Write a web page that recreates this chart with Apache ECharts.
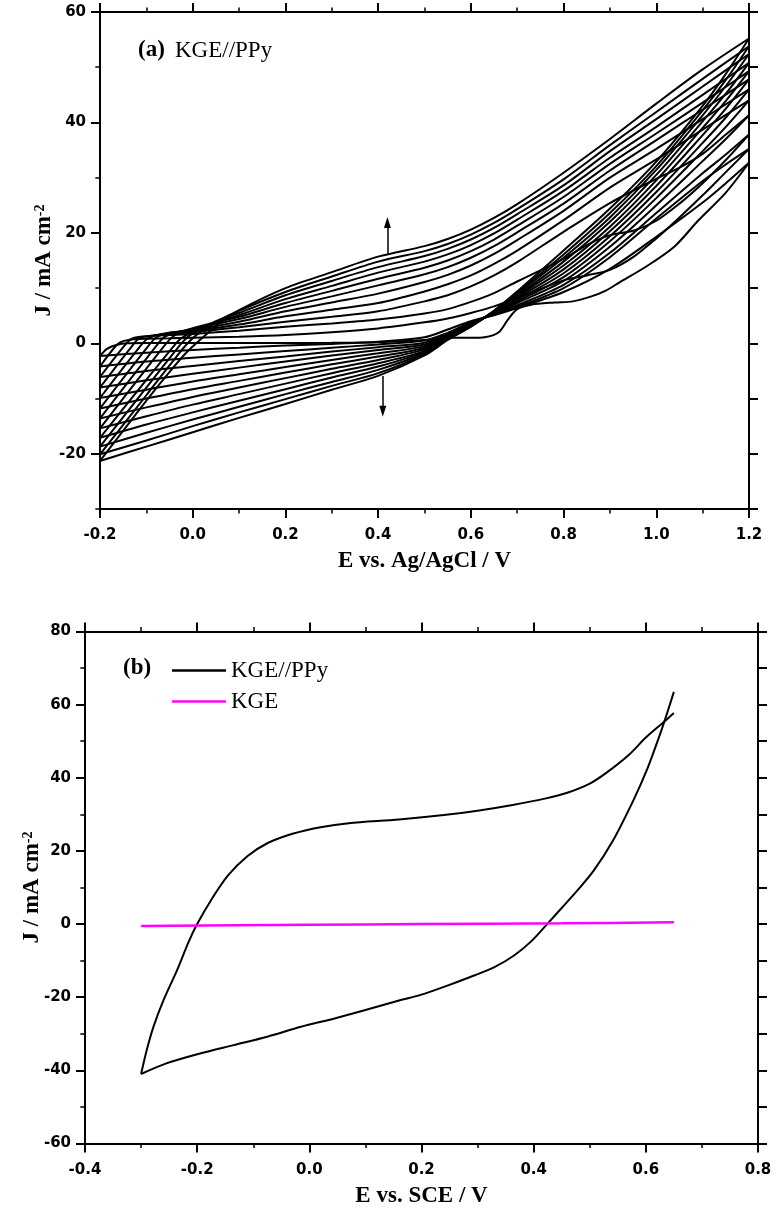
<!DOCTYPE html>
<html>
<head>
<meta charset="utf-8">
<script src="https://cdn.jsdelivr.net/npm/echarts@6/dist/echarts.min.js"></script>
<style>
html,body{margin:0;padding:0;background:#fff;}
#chart{width:773px;height:1209px;}
</style>
</head>
<body>
<div id="chart"></div>
<script>
// ---------- Panel (a): KGE//PPy, twelve successive scans (E vs. Ag/AgCl, J in mA cm-2) ----------
// Anodic (forward) sweeps, -0.2 V -> 1.2 V, as [E, J] pairs
const fwd1 = [[-0.2,-2.3],[-0.185,-1.0],[-0.165,-0.3],[-0.14,0.0],[-0.1,0.05],[0.0,0.05],[0.1,0.05],[0.2,0.05],[0.3,0.1],[0.4,0.2],[0.5,0.6],[0.55,1.0],[0.6,1.0],[0.63,1.1],[0.66,2.0],[0.68,4.3],[0.7,6.2],[0.73,7.0],[0.78,7.4],[0.82,7.6],[0.86,8.5],[0.89,9.5],[0.92,11.0],[0.98,14.0],[1.04,17.6],[1.09,22.2],[1.15,27.3],[1.2,32.7]];
const fwd2 = [[-0.2,-4.2],[-0.165,-0.4],[-0.15,0.4],[-0.12,0.8],[-0.05,0.9],[0.0,1.0],[0.1,1.2],[0.2,1.5],[0.3,2.0],[0.4,2.7],[0.5,3.8],[0.55,4.5],[0.6,5.5],[0.65,6.7],[0.7,8.2],[0.8,11.4],[0.85,12.3],[0.9,13.3],[0.95,15.6],[1.0,19.0],[1.05,22.8],[1.1,26.8],[1.15,31.0],[1.2,35.2]];
const fwd3 = [[-0.2,-6.1],[-0.145,-0.2],[-0.13,0.9],[-0.1,1.3],[-0.05,1.5],[0.0,1.7],[0.1,2.3],[0.2,3.0],[0.3,3.6],[0.4,4.3],[0.5,5.4],[0.55,6.2],[0.6,7.5],[0.65,9.1],[0.7,11.2],[0.8,15.3],[0.85,17.8],[0.9,19.6],[0.95,20.4],[1.0,22.2],[1.05,25.3],[1.1,29.0],[1.15,33.2],[1.2,37.8]];
const fwd4 = [[-0.2,-8.0],[-0.13,-0.4],[-0.115,0.9],[-0.08,1.5],[-0.05,1.7],[0.0,2.0],[0.1,2.9],[0.2,3.9],[0.3,4.8],[0.4,5.8],[0.5,7.6],[0.55,8.7],[0.6,10.3],[0.65,12.3],[0.7,14.7],[0.8,20.2],[0.9,25.4],[1.0,29.8],[1.05,31.8],[1.1,34.3],[1.15,37.8],[1.2,41.3]];
const fwd5 = [[-0.2,-9.9],[-0.11,-0.2],[-0.095,1.0],[-0.06,1.8],[0.0,2.2],[0.1,3.4],[0.2,4.9],[0.3,6.1],[0.4,7.3],[0.5,9.4],[0.55,10.7],[0.6,12.3],[0.65,14.4],[0.7,16.8],[0.8,22.3],[0.9,28.2],[1.0,33.3],[1.1,38.7],[1.2,44.0]];
const fwd6 = [[-0.2,-11.8],[-0.093,-0.2],[-0.078,1.1],[-0.05,1.9],[0.0,2.4],[0.1,3.9],[0.2,5.8],[0.3,7.4],[0.4,9.0],[0.5,11.1],[0.55,12.4],[0.6,14.1],[0.65,16.2],[0.7,18.7],[0.8,24.0],[0.9,30.0],[1.0,35.2],[1.1,40.6],[1.2,46.0]];
const fwd7 = [[-0.2,-13.6],[-0.075,-0.1],[-0.06,1.2],[-0.035,2.0],[0.0,2.6],[0.1,4.4],[0.2,6.6],[0.3,8.5],[0.4,10.5],[0.5,12.5],[0.55,13.8],[0.6,15.5],[0.65,17.6],[0.7,20.1],[0.8,25.3],[0.9,31.3],[1.0,36.8],[1.1,42.3],[1.2,47.8]];
const fwd8 = [[-0.2,-15.4],[-0.058,-0.1],[-0.043,1.2],[-0.02,2.2],[0.02,3.2],[0.1,4.8],[0.2,7.3],[0.3,9.5],[0.4,11.7],[0.5,13.7],[0.55,15.0],[0.6,16.7],[0.65,18.8],[0.7,21.3],[0.8,26.5],[0.9,32.5],[1.0,38.0],[1.1,43.6],[1.2,49.3]];
const fwd9 = [[-0.2,-17.1],[-0.1,-6.6],[-0.04,-0.4],[-0.025,0.9],[0.0,2.1],[0.05,3.8],[0.1,5.1],[0.2,8.0],[0.3,10.4],[0.4,12.8],[0.5,14.8],[0.55,16.1],[0.6,17.8],[0.65,19.9],[0.7,22.4],[0.8,27.6],[0.9,33.6],[1.0,39.2],[1.1,45.0],[1.2,50.8]];
const fwd10 = [[-0.2,-18.7],[-0.1,-8.0],[-0.05,-2.7],[-0.02,0.4],[0.0,1.8],[0.05,4.0],[0.1,5.5],[0.2,8.7],[0.3,11.3],[0.4,13.8],[0.5,15.8],[0.55,17.1],[0.6,18.8],[0.65,20.9],[0.7,23.4],[0.8,28.6],[0.9,34.8],[1.0,40.6],[1.1,46.5],[1.2,52.4]];
const fwd11 = [[-0.2,-20.1],[-0.1,-9.4],[-0.05,-4.0],[-0.01,0.1],[0.02,2.3],[0.05,3.9],[0.1,5.9],[0.2,9.3],[0.3,12.1],[0.4,14.8],[0.5,16.7],[0.55,18.0],[0.6,19.7],[0.65,21.8],[0.7,24.3],[0.8,29.7],[0.9,35.9],[1.0,41.9],[1.1,47.9],[1.2,53.8]];
const fwd12 = [[-0.2,-21.3],[-0.115,-12.0],[-0.057,-5.9],[-0.014,-1.7],[0.029,1.6],[0.06,3.8],[0.1,6.0],[0.2,10.0],[0.3,12.9],[0.4,15.7],[0.5,17.6],[0.55,18.9],[0.6,20.6],[0.65,22.7],[0.7,25.2],[0.8,30.9],[0.9,37.0],[1.0,43.4],[1.1,49.6],[1.2,55.2]];

// Cathodic (return) sweeps, 1.2 V -> -0.2 V, sampled on a common potential grid
const revE = [1.2, 1.15, 1.1, 1.0, 0.9, 0.8, 0.7, 0.65, 0.6, 0.55, 0.5, 0.4, 0.3, 0.2, 0.1, 0.0, -0.1, -0.2];
const rev1 = [32.7, 29.0, 25.5, 19.3, 13.5, 9.3, 6.4, 5.1, 4.0, 2.5, 1.1, 0.3, -0.1, -0.4, -0.8, -1.2, -1.7, -2.3];
const rev2 = [35.2, 32.4, 29.4, 22.6, 15.6, 10.0, 6.6, 5.2, 3.8, 1.9, 0.5, -0.2, -0.8, -1.4, -2.0, -2.6, -3.3, -4.2];
const rev3 = [37.8, 34.2, 30.8, 23.6, 16.4, 10.6, 6.9, 5.3, 3.7, 1.8, 0.1, -0.7, -1.5, -2.4, -3.2, -4.1, -5.0, -6.1];
const rev4 = [41.3, 37.0, 33.0, 25.0, 17.5, 11.3, 7.3, 5.4, 3.6, 1.7, -0.2, -1.2, -2.2, -3.3, -4.4, -5.5, -6.7, -8.0];
const rev5 = [44.0, 39.2, 34.8, 26.3, 18.5, 12.0, 7.6, 5.5, 3.5, 1.5, -0.5, -1.8, -3.0, -4.3, -5.6, -6.9, -8.4, -9.9];
const rev6 = [46.0, 40.9, 36.3, 27.4, 19.4, 12.7, 7.9, 5.6, 3.4, 1.4, -0.8, -2.4, -3.8, -5.3, -6.8, -8.3, -10.0, -11.8];
const rev7 = [47.8, 42.5, 37.7, 28.5, 20.3, 13.4, 8.2, 5.7, 3.3, 1.2, -1.1, -3.0, -4.6, -6.3, -8.0, -9.7, -11.6, -13.6];
const rev8 = [49.3, 43.9, 39.0, 29.5, 21.1, 14.1, 8.5, 5.7, 3.2, 1.0, -1.4, -3.6, -5.4, -7.3, -9.2, -11.1, -13.2, -15.4];
const rev9 = [50.8, 45.2, 40.2, 30.5, 22.0, 14.8, 8.7, 5.8, 3.2, 0.9, -1.6, -4.2, -6.2, -8.3, -10.4, -12.5, -14.7, -17.1];
const rev10 = [52.4, 46.6, 41.3, 31.4, 22.8, 15.5, 9.0, 5.8, 3.1, 0.8, -1.8, -4.8, -7.0, -9.2, -11.5, -13.8, -16.2, -18.7];
const rev11 = [53.8, 47.7, 42.2, 32.1, 23.6, 16.1, 9.2, 5.9, 3.0, 0.7, -2.0, -5.4, -7.7, -10.1, -12.5, -15.0, -17.6, -20.1];
const rev12 = [55.2, 48.8, 43.0, 32.9, 24.4, 16.8, 9.4, 5.9, 3.0, 0.6, -2.2, -5.9, -8.4, -11.0, -13.5, -16.1, -18.7, -21.3];

// Growth arrows (start, tip)
const arrowUp = [[0.42, 16.2], [0.42, 21.9]];
const arrowDown = [[0.41, -5.9], [0.41, -12.3]];

// Axis ticks, panel (a)
const jMajorA = [-20, 0, 20, 40, 60];

// ---------- Panel (b): KGE//PPy vs. KGE (E vs. SCE) ----------
const ppyReturn = [[0.65,57.7],[0.63,55.0],[0.6,51.0],[0.57,46.3],[0.53,41.4],[0.5,38.4],[0.46,35.9],[0.42,34.3],[0.36,32.5],[0.3,31.0],[0.24,29.8],[0.16,28.6],[0.07,27.6],[0.02,26.5],[-0.03,24.7],[-0.075,22.1],[-0.11,18.6],[-0.145,13.3],[-0.175,6.6],[-0.2,0.0],[-0.215,-4.8],[-0.235,-12.3],[-0.26,-20.8],[-0.278,-28.1],[-0.29,-34.5],[-0.3,-41.0]];
const ppyForward = [[-0.3,-41.0],[-0.255,-38.1],[-0.195,-35.4],[-0.135,-33.1],[-0.075,-30.8],[-0.015,-28.1],[0.045,-25.8],[0.1,-23.5],[0.16,-20.9],[0.2,-19.3],[0.245,-16.9],[0.295,-14.0],[0.33,-11.8],[0.365,-8.6],[0.395,-4.8],[0.424,0.0],[0.45,4.4],[0.478,9.2],[0.507,14.6],[0.542,23.0],[0.578,33.9],[0.602,42.2],[0.626,52.2],[0.638,57.7],[0.65,63.5]];
const kgeCurve = [[-0.3,-0.5],[0.0,-0.2],[0.2,0.0],[0.45,0.2],[0.65,0.5]];

const legendNames = ['KGE//PPy', 'KGE'];

// ---------- styling helpers ----------
const BLACK = '#000';
const labelFont = { fontFamily: 'DejaVu Sans', fontWeight: 'bold', fontSize: 15, color: BLACK };
const titleFont = { fontFamily: 'Liberation Serif', fontWeight: 'bold', fontSize: 23, color: BLACK };
const axisLine = { show: true, onZero: false, lineStyle: { color: BLACK, width: 2 } };
const yTitleStyle = {
  rich: {
    m: { fontFamily: 'Liberation Serif', fontWeight: 'bold', fontSize: 23, color: BLACK },
    s: { fontFamily: 'Liberation Serif', fontWeight: 'bold', fontSize: 14, color: BLACK, verticalAlign: 'top' }
  }
};

function xAxisDef(grid, min, max, pos, withLabels, name) {
  return {
    type: 'value', gridIndex: grid, position: pos, min, max, interval: 0.2,
    axisLine, splitLine: { show: false },
    axisTick: { show: true, inside: false, length: 9, lineStyle: { color: BLACK, width: 2 } },
    minorTick: { show: true, splitNumber: 2, length: 4.5, lineStyle: { color: BLACK, width: 1.5 } },
    axisLabel: withLabels ? Object.assign({ show: true, margin: 19, formatter: v => v.toFixed(1) }, labelFont) : { show: false },
    name: name || '', nameLocation: 'middle', nameGap: 41, nameMoveOverlap: false, nameTextStyle: titleFont
  };
}

const forward = [fwd1, fwd2, fwd3, fwd4, fwd5, fwd6, fwd7, fwd8, fwd9, fwd10, fwd11, fwd12];
const reverse = [rev1, rev2, rev3, rev4, rev5, rev6, rev7, rev8, rev9, rev10, rev11, rev12];

function scanLine(data) {
  return {
    type: 'line', xAxisIndex: 0, yAxisIndex: 0, data,
    symbol: 'none', showSymbol: false, smooth: 0.3,
    lineStyle: { color: BLACK, width: 2 }, silent: true, z: 3
  };
}

const series = [];
forward.forEach(d => series.push(scanLine(d)));
reverse.forEach(ys => series.push(scanLine(ys.map((j, i) => [revE[i], j]))));

// arrows marking the growth direction
series[0].markLine = {
  silent: true, animation: false,
  symbol: ['none', 'triangle'], symbolSize: [7, 11],
  label: { show: false },
  lineStyle: { color: BLACK, width: 1.5, type: 'solid' },
  data: [
    [{ coord: arrowUp[0] }, { coord: arrowUp[1] }],
    [{ coord: arrowDown[0] }, { coord: arrowDown[1] }]
  ]
};

series.push({
  name: 'KGE//PPy', type: 'line', xAxisIndex: 2, yAxisIndex: 3, data: ppyReturn,
  symbol: 'none', showSymbol: false, smooth: 0.3,
  lineStyle: { color: BLACK, width: 2 }, itemStyle: { color: BLACK }, z: 3
});
series.push({
  name: 'KGE//PPy', type: 'line', xAxisIndex: 2, yAxisIndex: 3, data: ppyForward,
  symbol: 'none', showSymbol: false, smooth: 0.3,
  lineStyle: { color: BLACK, width: 2 }, itemStyle: { color: BLACK }, z: 3
});
series.push({
  name: 'KGE', type: 'line', xAxisIndex: 2, yAxisIndex: 3, data: kgeCurve,
  symbol: 'none', showSymbol: false, smooth: 0.3,
  lineStyle: { color: '#ff00ff', width: 2.5 }, itemStyle: { color: '#ff00ff' }, z: 4
});

const option = {
  animation: false,
  backgroundColor: '#fff',
  textStyle: { fontFamily: 'Liberation Serif' },
  grid: [
    { left: 100, top: 12, width: 649, height: 497, outerBoundsMode: 'none', containLabel: false },
    { left: 85, top: 631.5, width: 673, height: 512, outerBoundsMode: 'none', containLabel: false }
  ],
  xAxis: [
    xAxisDef(0, -0.2, 1.2, 'bottom', true, 'E vs. Ag/AgCl / V'),
    xAxisDef(0, -0.2, 1.2, 'top', false),
    xAxisDef(1, -0.4, 0.8, 'bottom', true, 'E vs. SCE / V'),
    xAxisDef(1, -0.4, 0.8, 'top', false)
  ],
  yAxis: [
    { // panel (a) left: labels and short ticks every 10
      type: 'value', gridIndex: 0, position: 'left', min: -30, max: 60, interval: 10,
      axisLine, splitLine: { show: false },
      axisTick: { show: true, length: 4.7, lineStyle: { color: BLACK, width: 1.5 } },
      axisLabel: Object.assign({ show: true, margin: 14, formatter: v => (jMajorA.indexOf(v) >= 0 ? String(v) : '') }, labelFont),
      name: '{m|J / mA cm}{s|-2}', nameLocation: 'middle', nameRotate: 90, nameGap: 44,
      nameMoveOverlap: false, nameTextStyle: yTitleStyle
    },
    { // panel (a) left: long ticks at labelled values
      type: 'value', gridIndex: 0, position: 'left', min: -30, max: 60, interval: 10,
      axisLine: { show: false, onZero: false }, splitLine: { show: false },
      axisTick: { show: true, length: 9, customValues: jMajorA, lineStyle: { color: BLACK, width: 2 } },
      axisLabel: { show: false }
    },
    { // panel (a) right frame
      type: 'value', gridIndex: 0, position: 'right', min: -30, max: 60, interval: 10,
      axisLine, splitLine: { show: false },
      axisTick: { show: true, length: 9, lineStyle: { color: BLACK, width: 2 } },
      axisLabel: { show: false }
    },
    { // panel (b) left
      type: 'value', gridIndex: 1, position: 'left', min: -60, max: 80, interval: 20,
      axisLine, splitLine: { show: false },
      axisTick: { show: true, length: 9, lineStyle: { color: BLACK, width: 2 } },
      minorTick: { show: true, splitNumber: 2, length: 4.7, lineStyle: { color: BLACK, width: 1.5 } },
      axisLabel: Object.assign({ show: true, margin: 14 }, labelFont),
      name: '{m|J / mA cm}{s|-2}', nameLocation: 'middle', nameRotate: 90, nameGap: 41,
      nameMoveOverlap: false, nameTextStyle: yTitleStyle
    },
    { // panel (b) right frame
      type: 'value', gridIndex: 1, position: 'right', min: -60, max: 80, interval: 10,
      axisLine, splitLine: { show: false },
      axisTick: { show: true, length: 9, lineStyle: { color: BLACK, width: 2 } },
      axisLabel: { show: false }
    }
  ],
  legend: {
    data: legendNames, orient: 'vertical', left: 167, top: 654,
    icon: 'rect', itemWidth: 54, itemHeight: 2.5, itemGap: 8, selectedMode: false,
    textStyle: { fontFamily: 'Liberation Serif', fontSize: 23, color: BLACK }
  },
  graphic: [
    { type: 'text', x: 138, y: 50.5, silent: true,
      style: { text: '(a)', font: 'bold 23px "Liberation Serif"', fill: BLACK, verticalAlign: 'middle' } },
    { type: 'text', x: 175, y: 50.5, silent: true,
      style: { text: 'KGE//PPy', font: '23px "Liberation Serif"', fill: BLACK, verticalAlign: 'middle' } },
    { type: 'text', x: 123, y: 668, silent: true,
      style: { text: '(b)', font: 'bold 23px "Liberation Serif"', fill: BLACK, verticalAlign: 'middle' } }
  ],
  series
};

const chart = echarts.init(document.getElementById('chart'), null, { renderer: 'canvas' });
chart.setOption(option);
</script>
</body>
</html>
